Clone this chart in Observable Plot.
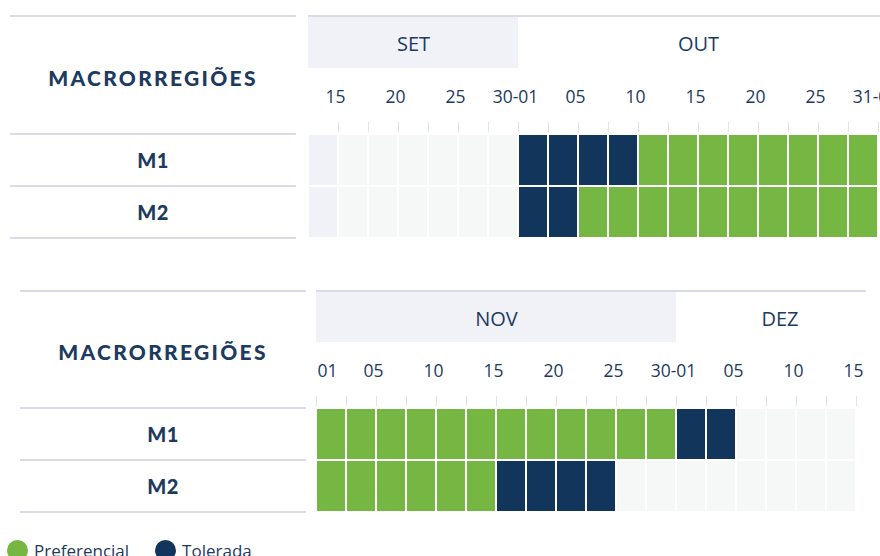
<!DOCTYPE html>
<html><head><meta charset="utf-8">
<script src="https://cdn.jsdelivr.net/npm/d3@7"></script>
<script src="https://cdn.jsdelivr.net/npm/@observablehq/plot@0.6"></script>
<style>
body{margin:0;width:880px;height:556px;overflow:hidden;background:#fff;position:relative;font-family:Lato,"Open Sans",sans-serif;color:#1d3a5f}
.lt{position:absolute;border-top:2px solid #d9dce8}
.lt .hdr{display:flex;align-items:center;justify-content:center;font-weight:900;font-size:21px;letter-spacing:2.3px;padding-top:4px;box-sizing:border-box}
.lt .row{border-top:2px solid #d9dce8;height:50px;display:flex;align-items:center;justify-content:center;font-weight:900;font-size:20px;letter-spacing:0.5px}
.lt .end{border-top:2px solid #d9dce8}
.hw{position:absolute;border-top:2px solid #d9dce8}
.gw{position:absolute}
.gw svg,.hw svg{overflow:visible}
.legend{position:absolute;left:7px;top:539px;display:flex;align-items:center;font-size:17px;font-family:"Open Sans",sans-serif}
.legend span.dot{display:inline-block;width:21px;height:21px;border-radius:50%;margin-right:6px}
.legend span.lab{margin-right:26px}
</style></head>
<body>
<div id="root"></div>
<script>
// ---------- data ----------
const rowNames = ["M1", "M2"];
const headerTitle = "MACRORREGIÕES";

// top panel
const monthsTop = ["SET", "OUT"];
const monthStartTop = [0, 7];
const monthEndTop = [7, 19];
const tickPosTop = [1, 2, 3, 4, 5, 6, 7, 8, 9, 10, 11, 12, 13, 14, 15, 16, 17, 18, 19];
const labelPosTop = [1, 3, 5, 7, 9, 11, 13, 15, 17, 19];
const labelsTop = ["15", "20", "25", "30-01", "05", "10", "15", "20", "25", "31-01"];
const statusTopM1 = ["Fora", "Vazio", "Vazio", "Vazio", "Vazio", "Vazio", "Vazio",
  "Tolerada", "Tolerada", "Tolerada", "Tolerada",
  "Preferencial", "Preferencial", "Preferencial", "Preferencial", "Preferencial", "Preferencial", "Preferencial", "Preferencial"];
const statusTopM2 = ["Fora", "Vazio", "Vazio", "Vazio", "Vazio", "Vazio", "Vazio",
  "Tolerada", "Tolerada",
  "Preferencial", "Preferencial", "Preferencial", "Preferencial", "Preferencial", "Preferencial", "Preferencial", "Preferencial", "Preferencial", "Preferencial"];

// bottom panel
const monthsBot = ["NOV", "DEZ"];
const monthStartBot = [0, 12];
const monthEndBot = [12, 18.9];
const tickPosBot = [0, 1, 2, 3, 4, 5, 6, 7, 8, 9, 10, 11, 12, 13, 14, 15, 16, 17, 18];
const labelPosBot = [0, 2, 4, 6, 8, 10, 12, 14, 16, 18];
const labelsBot = ["01", "05", "10", "15", "20", "25", "30-01", "05", "10", "15"];
const statusBotM1 = ["Preferencial", "Preferencial", "Preferencial", "Preferencial", "Preferencial", "Preferencial",
  "Preferencial", "Preferencial", "Preferencial", "Preferencial", "Preferencial", "Preferencial",
  "Tolerada", "Tolerada", "Vazio", "Vazio", "Vazio", "Vazio"];
const statusBotM2 = ["Preferencial", "Preferencial", "Preferencial", "Preferencial", "Preferencial", "Preferencial",
  "Tolerada", "Tolerada", "Tolerada", "Tolerada",
  "Vazio", "Vazio", "Vazio", "Vazio", "Vazio", "Vazio", "Vazio", "Vazio"];

const legendItems = ["Preferencial", "Tolerada"];

// ---------- style ----------
const NAVY_TXT = "#1d3a5f";
const colorDomain = ["Preferencial", "Tolerada", "Vazio", "Fora"];
const colorRange = ["#76b743", "#12355b", "#f6f7f7", "#f1f2f8"];
const COLW = 30;

const root = document.getElementById("root");

function leftTable(left, top, hdrH) {
  const d = document.createElement("div");
  d.className = "lt";
  d.style.left = left + "px"; d.style.top = top + "px"; d.style.width = "286px";
  let html = `<div class="hdr" style="height:${hdrH}px">${headerTitle}</div>`;
  for (const r of rowNames) html += `<div class="row">${r}</div>`;
  html += `<div class="end"></div>`;
  d.innerHTML = html;
  root.appendChild(d);
}

function panel({left, top, hdrH, lineW, months, mStart, mEnd, nCols, tickPos, labelPos, labels, statuses}) {
  const monthData = months.map((m, i) => ({m, s: mStart[i], e: mEnd[i], shade: i % 2 === 0}));
  const w = nCols * COLW;
  const header = Plot.plot({
    width: w, height: hdrH,
    marginTop: 0, marginBottom: 0, marginLeft: 0, marginRight: 0,
    x: {domain: [0, nCols], axis: null},
    style: {background: "transparent", fontFamily: "'Open Sans', sans-serif", color: NAVY_TXT},
    marks: [
      Plot.rect(monthData.filter(d => d.shade), {x1: "s", x2: "e", fill: "#f1f2f8"}),
      Plot.text(monthData, {x: d => (d.s + d.e) / 2, text: "m", frameAnchor: "middle", fontSize: 20, dy: 2, fill: NAVY_TXT})
    ]
  });
  const hw = document.createElement("div");
  hw.className = "hw";
  hw.style.left = left + "px"; hw.style.top = top + "px"; hw.style.width = lineW + "px";
  hw.appendChild(header);
  root.appendChild(hw);

  const cells = [];
  rowNames.forEach((r, ri) => statuses[ri].forEach((s, c) => cells.push({row: r, c, s})));
  const labData = labels.map((t, i) => ({b: labelPos[i], t}));
  const grid = Plot.plot({
    width: w, height: 66 + 104,
    marginTop: 66, marginBottom: 0, marginLeft: 0, marginRight: 0,
    x: {domain: [0, nCols], axis: null},
    y: {domain: rowNames, axis: null, padding: 0},
    color: {domain: colorDomain, range: colorRange},
    style: {background: "transparent", fontFamily: "'Open Sans', sans-serif", color: NAVY_TXT, overflow: "visible"},
    marks: [
      Plot.rect(cells, {x1: "c", x2: d => d.c + 1, y: "row", fill: "s", inset: 1}),
      Plot.axisX(tickPos, {anchor: "top", tickSize: 10, dy: -3, tickFormat: () => "", stroke: "#e1e3e8"}),
      Plot.text(labData.filter(d => d.b !== 0), {x: "b", text: "t", frameAnchor: "top", lineAnchor: "middle", dy: -37, dx: -3, fontSize: 17.5, fill: NAVY_TXT}),
      Plot.text(labData.filter(d => d.b === 0), {x: "b", text: "t", frameAnchor: "top", lineAnchor: "middle", dy: -37, dx: 1, textAnchor: "start", fontSize: 17.5, fill: NAVY_TXT})
    ]
  });
  const gw = document.createElement("div");
  gw.className = "gw";
  gw.style.left = left + "px"; gw.style.top = (top + 2 + hdrH) + "px";
  gw.appendChild(grid);
  root.appendChild(gw);
}

leftTable(10, 15, 116);
panel({left: 308, top: 15, hdrH: 51, lineW: 572, months: monthsTop, mStart: monthStartTop, mEnd: monthEndTop,
  nCols: 19, tickPos: tickPosTop, labelPos: labelPosTop, labels: labelsTop, statuses: [statusTopM1, statusTopM2]});

leftTable(20, 290, 115);
panel({left: 316, top: 290, hdrH: 50, lineW: 550, months: monthsBot, mStart: monthStartBot, mEnd: monthEndBot,
  nCols: 18, tickPos: tickPosBot, labelPos: labelPosBot, labels: labelsBot, statuses: [statusBotM1, statusBotM2]});

const lg = document.createElement("div");
lg.className = "legend";
lg.innerHTML = legendItems.map((k) => `<span class="dot" style="background:${colorRange[colorDomain.indexOf(k)]}"></span><span class="lab">${k}</span>`).join("");
root.appendChild(lg);
</script>
</body></html>
